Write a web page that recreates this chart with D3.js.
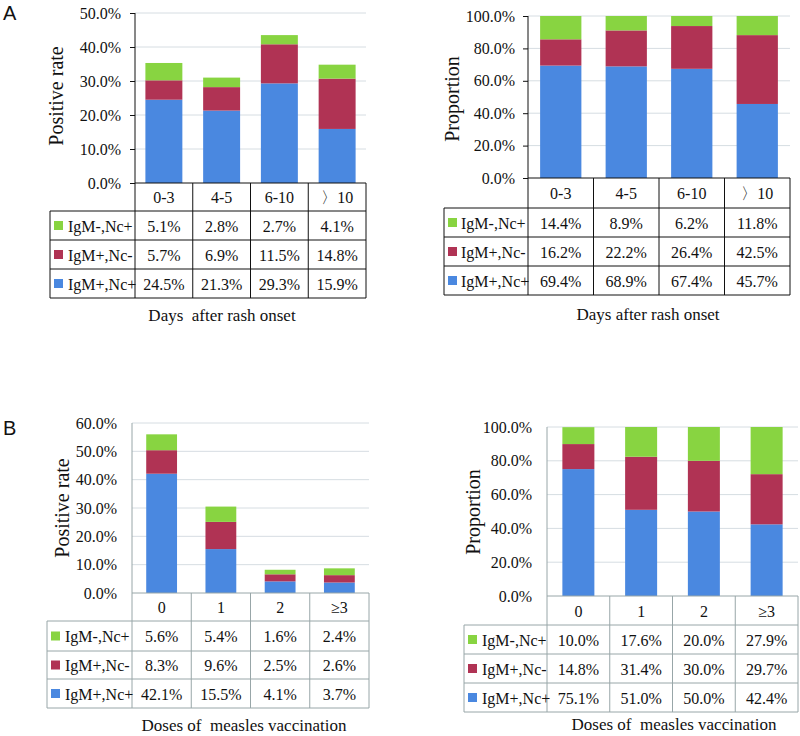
<!DOCTYPE html>
<html>
<head>
<meta charset="utf-8">
<script src="https://cdn.jsdelivr.net/npm/d3@7/dist/d3.min.js"></script>
<style>
  html, body { margin: 0; padding: 0; background: #fff; }
  svg { display: block; }
  text { font-family: "Liberation Serif", "Times New Roman", serif; fill: #111; }
</style>
</head>
<body>
<svg id="chart" width="800" height="736"></svg>
<script>
// ---------------- DATA ----------------
const seriesNames = ["IgM-,Nc+", "IgM+,Nc-", "IgM+,Nc+"];   // table rows, top to bottom
const seriesColors = ["#88d441", "#b03354", "#4a88e0"];
const daysCats = ["0-3", "4-5", "6-10", "〉10"];
const dosesCats = ["0", "1", "2", "≥3"];

// Panel A left: positive rate (%)
const aRateGreen = [5.1, 2.8, 2.7, 4.1];
const aRateRed   = [5.7, 6.9, 11.5, 14.8];
const aRateBlue  = [24.5, 21.3, 29.3, 15.9];
// Panel A right: proportion (%)
const aPropGreen = [14.4, 8.9, 6.2, 11.8];
const aPropRed   = [16.2, 22.2, 26.4, 42.5];
const aPropBlue  = [69.4, 68.9, 67.4, 45.7];
// Panel B left: positive rate (%)
const bRateGreen = [5.6, 5.4, 1.6, 2.4];
const bRateRed   = [8.3, 9.6, 2.5, 2.6];
const bRateBlue  = [42.1, 15.5, 4.1, 3.7];
// Panel B right: proportion (%)
const bPropGreen = [10.0, 17.6, 20.0, 27.9];
const bPropRed   = [14.8, 31.4, 30.0, 29.7];
const bPropBlue  = [75.1, 51.0, 50.0, 42.4];

const rateTicksA = [0, 10, 20, 30, 40, 50];
const propTicks  = [0, 20, 40, 60, 80, 100];
const rateTicksB = [0, 10, 20, 30, 40, 50, 60];

const yTitleRate = "Positive rate";
const yTitleProp = "Proportion";
const xTitleDays = "Days  after rash onset";
const xTitleDays2 = "Days after rash onset";
const xTitleDoses = "Doses of  measles vaccination";

// ---------------- DRAW ----------------
const svg = d3.select("#chart");
const fmt = v => v.toFixed(1) + "%";

function drawPanel(o) {
  const g = svg.append("g");
  const x = d3.scaleBand().domain(o.cats).range([o.axisX, o.right])
    .paddingInner(o.pad).paddingOuter(o.pad / 2);
  const y = d3.scaleLinear().domain([0, d3.max(o.ticks)]).range([o.y0, o.yTop]);

  // gridlines
  g.selectAll(".grid").data(o.ticks.filter(t => t > 0)).join("line")
    .attr("x1", o.axisX).attr("x2", o.right)
    .attr("y1", d => y(d)).attr("y2", d => y(d))
    .attr("stroke", "#d6dde2").attr("stroke-width", 1);

  // stacked bars: bottom-up blue, red, green
  const rows = o.cats.map((c, i) => ({ cat: c, blue: o.blue[i], red: o.red[i], green: o.green[i] }));
  const stack = d3.stack().keys(["blue", "red", "green"])(rows);
  const colorOf = { blue: seriesColors[2], red: seriesColors[1], green: seriesColors[0] };
  stack.forEach(layer => {
    g.selectAll(null).data(layer).join("rect")
      .attr("x", d => x(d.data.cat))
      .attr("width", x.bandwidth())
      .attr("y", d => y(d[1]))
      .attr("height", d => y(d[0]) - y(d[1]))
      .attr("fill", colorOf[layer.key]);
  });

  // y axis
  const axis = d3.axisLeft(y).tickValues(o.ticks).tickFormat(fmt)
    .tickSize(o.tickSize).tickPadding(o.tickPad);
  const ag = g.append("g").attr("transform", `translate(${o.axisX},0)`).call(axis);
  ag.attr("font-family", null);
  ag.select(".domain").remove();
  ag.selectAll(".tick line").attr("stroke", o.lineColor);
  ag.selectAll(".tick text").attr("font-size", 16).attr("fill", "#111");
  g.append("line").attr("x1", o.axisX).attr("x2", o.axisX)
    .attr("y1", o.yTop).attr("y2", o.y0).attr("stroke", o.lineColor);

  // table
  const rt = o.rows; // [headerTop, row1Top, row2Top, row3Top, bottom]
  const tl = g.append("g").attr("stroke", o.lineColor).attr("stroke-width", 1).attr("fill", "none");
  const hl = (x1, x2, yy) => tl.append("line").attr("x1", x1).attr("x2", x2).attr("y1", yy).attr("y2", yy);
  const vl = (xx, y1, y2) => tl.append("line").attr("x1", xx).attr("x2", xx).attr("y1", y1).attr("y2", y2);
  hl(o.axisX, o.right, rt[0]);
  for (let k = 1; k < rt.length; k++) hl(o.legendLeft, o.right, rt[k]);
  vl(o.legendLeft, rt[1], rt[4]);
  const step = x.step();
  for (let i = 0; i <= o.cats.length; i++) vl(o.axisX + i * step, rt[0], rt[4]);

  // header text
  g.selectAll(null).data(o.cats).join("text")
    .attr("x", d => x(d) + x.bandwidth() / 2)
    .attr("y", (rt[0] + rt[1]) / 2 + 6)
    .attr("text-anchor", "middle").attr("font-size", 16).text(d => d);

  const vals = [o.green, o.red, o.blue];
  seriesNames.forEach((name, r) => {
    const cy = (rt[r + 1] + rt[r + 2]) / 2;
    g.append("rect").attr("x", o.legendLeft + 4).attr("y", cy - 4.5).attr("width", 9).attr("height", 9)
      .attr("fill", seriesColors[r]);
    g.append("text").attr("x", o.legendLeft + o.legTextOff).attr("y", cy + 6)
      .attr("font-size", 16).text(name);
    g.selectAll(null).data(vals[r]).join("text")
      .attr("x", (d, i) => x(o.cats[i]) + x.bandwidth() / 2)
      .attr("y", cy + 6).attr("text-anchor", "middle").attr("font-size", 16)
      .text(d => fmt(d));
  });

  // titles
  g.append("text").attr("transform", `translate(${o.yTitle[0]},${o.yTitle[1]}) rotate(-90)`)
    .attr("text-anchor", "middle").attr("dy", "0.35em").attr("font-size", 20).text(o.yTitleText);
  g.append("text").attr("x", o.xTitle[0]).attr("y", o.xTitle[1])
    .attr("text-anchor", "middle").attr("font-size", 17).style("white-space", "pre").text(o.xTitleText);
}

drawPanel({
  cats: daysCats, green: aRateGreen, red: aRateRed, blue: aRateBlue, ticks: rateTicksA,
  axisX: 135, right: 366, yTop: 13, y0: 183, pad: 0.36, tickSize: 5, tickPad: 9,
  lineColor: "#111", legendLeft: 50, legTextOff: 18, rows: [183, 211, 240, 269, 298],
  yTitle: [56, 96], yTitleText: yTitleRate, xTitle: [222, 321], xTitleText: xTitleDays
});
drawPanel({
  cats: daysCats, green: aPropGreen, red: aPropRed, blue: aPropBlue, ticks: propTicks,
  axisX: 528, right: 790, yTop: 16, y0: 178, pad: 0.37, tickSize: 5, tickPad: 8,
  lineColor: "#111", legendLeft: 444, legTextOff: 17, rows: [178, 208, 237, 266, 295],
  yTitle: [452, 99], yTitleText: yTitleProp, xTitle: [648, 320], xTitleText: xTitleDays2
});
drawPanel({
  cats: dosesCats, green: bRateGreen, red: bRateRed, blue: bRateBlue, ticks: rateTicksB,
  axisX: 132, right: 369, yTop: 423, y0: 593, pad: 0.48, tickSize: 0, tickPad: 15,
  lineColor: "#98a6a8", legendLeft: 47, legTextOff: 18, rows: [593, 621, 651, 679, 708],
  yTitle: [62, 508], yTitleText: yTitleRate, xTitle: [244, 731], xTitleText: xTitleDoses
});
drawPanel({
  cats: dosesCats, green: bPropGreen, red: bPropRed, blue: bPropBlue, ticks: propTicks,
  axisX: 547, right: 798, yTop: 427, y0: 596, pad: 0.49, tickSize: 0, tickPad: 15,
  lineColor: "#98a6a8", legendLeft: 464, legTextOff: 18, rows: [596, 625, 654, 683, 712],
  yTitle: [473, 512], yTitleText: yTitleProp, xTitle: [674, 730], xTitleText: xTitleDoses
});

// panel labels
svg.append("text").attr("x", 3).attr("y", 20).attr("font-size", 20)
  .style("font-family", "Liberation Sans, Arial, sans-serif").text("A");
svg.append("text").attr("x", 3).attr("y", 435).attr("font-size", 20)
  .style("font-family", "Liberation Sans, Arial, sans-serif").text("B");
</script>
</body>
</html>
